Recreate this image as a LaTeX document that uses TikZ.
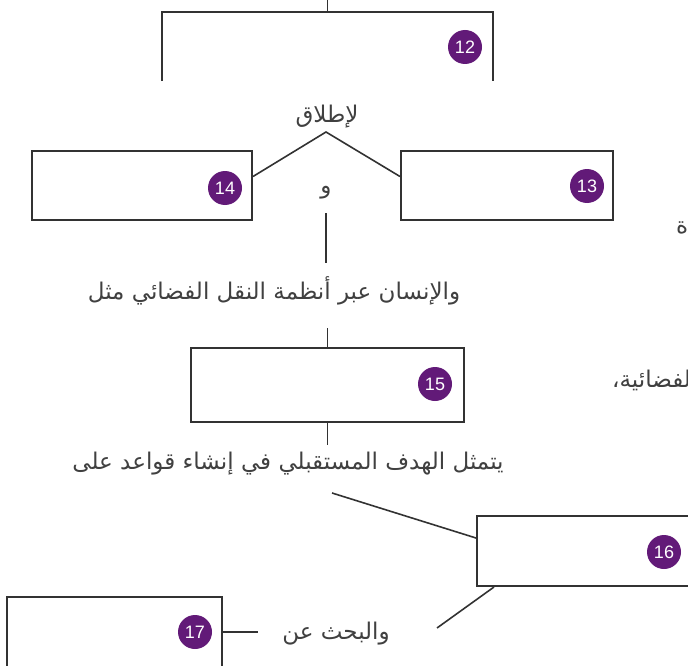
\documentclass[tikz,border=0pt]{standalone}
\usepackage{fontspec}
\setmainfont{Liberation Sans}
\newfontfamily\arabicfont[Script=Arabic]{DejaVu Sans}
\TeXXeTstate=1
\definecolor{badgepurple}{RGB}{98,26,120}
\definecolor{linegray}{RGB}{50,50,50}

\begin{document}
\begin{tikzpicture}[x=1pt,y=-1pt,
  box/.style={draw=linegray,line width=2pt,inner sep=0pt},
  link/.style={draw=linegray,line width=1.6pt},
  badge/.style={circle,fill=badgepurple,text=white,inner sep=0pt,minimum size=34pt,font=\fontsize{18}{18}\selectfont},
  arlabel/.style={text=black!75,inner sep=0pt,font=\arabicfont\fontsize{23}{26}\selectfont}]
  \clip (0,0) rectangle (688,666);
  % open bracket 12
  \node[inner sep=0pt,minimum width=331pt,minimum height=69pt] (box12) at (327.5,46.5) {};
  \coordinate (top) at (327.5,0);
  \draw[link] (top) -- (box12.north);
  \draw[box] (box12.south west) -- (box12.north west) -- (box12.north east) -- (box12.south east);
  \node[badge] (n12) at (465,47) {12};
  \node[arlabel] (launch) at (327,117) {\beginR لإطلاق\endR};
  % boxes 14 and 13
  \node[box,minimum width=220pt,minimum height=69pt] (box14) at (142,185.5) {};
  \node[badge] (n14) at (225,188) {14};
  \node[box,minimum width=212pt,minimum height=69pt] (box13) at (507,185.5) {};
  \node[badge] (n13) at (587,186) {13};
  \coordinate (peak) at (326,132);
  \draw[link] ([yshift=9pt]box14.east) -- (peak) -- ([yshift=9pt]box13.west);
  \node[arlabel] (andword) at (326,193) {\beginR و\endR};
  \node[arlabel,anchor=west] (cut1) at (676,228) {\beginR ة\endR};
  % middle text and box 15
  \node[arlabel] (text1) at (274,291) {\beginR والإنسان عبر أنظمة النقل الفضائي مثل\endR};
  \draw[link,shorten <=20pt,shorten >=28pt] (andword.center) -- (andword.center |- text1.center);
  \node[box,minimum width=273pt,minimum height=74pt] (box15) at (327.5,385) {};
  \node[badge] (n15) at (435,384) {15};
  \draw[link,shorten <=37pt] (box15.north |- text1.center) -- (box15.north);
  \node[arlabel,anchor=west] (cut2) at (612,380) {\beginR الفضائية،\endR};
  % lower part
  \node[arlabel] (text2) at (288,464) {\beginR يتمثل الهدف المستقبلي في إنشاء قواعد على\endR};
  \draw[link,shorten >=19pt] (box15.south) -- (box15.south |- text2.center);
  \node[box,minimum width=263pt,minimum height=70pt] (box16) at (608.5,551) {};
  \node[badge] (n16) at (664,552) {16};
  \draw[link] ([xshift=44pt,yshift=-29pt]text2.center) -- ([yshift=13pt]box16.west);
  \node[arlabel] (text3) at (336,634) {\beginR والبحث عن\endR};
  \draw[link] ([xshift=18pt]box16.south west) -- ([xshift=101pt,yshift=6pt]text3.center);
  \node[box,minimum width=215pt,minimum height=93pt] (box17) at (114.5,643.5) {};
  \node[badge] (n17) at (195,632) {17};
  \draw[link,shorten >=78pt] (n17.center -| box17.east) -- (n17.center -| text3.center);
\end{tikzpicture}
\end{document}
